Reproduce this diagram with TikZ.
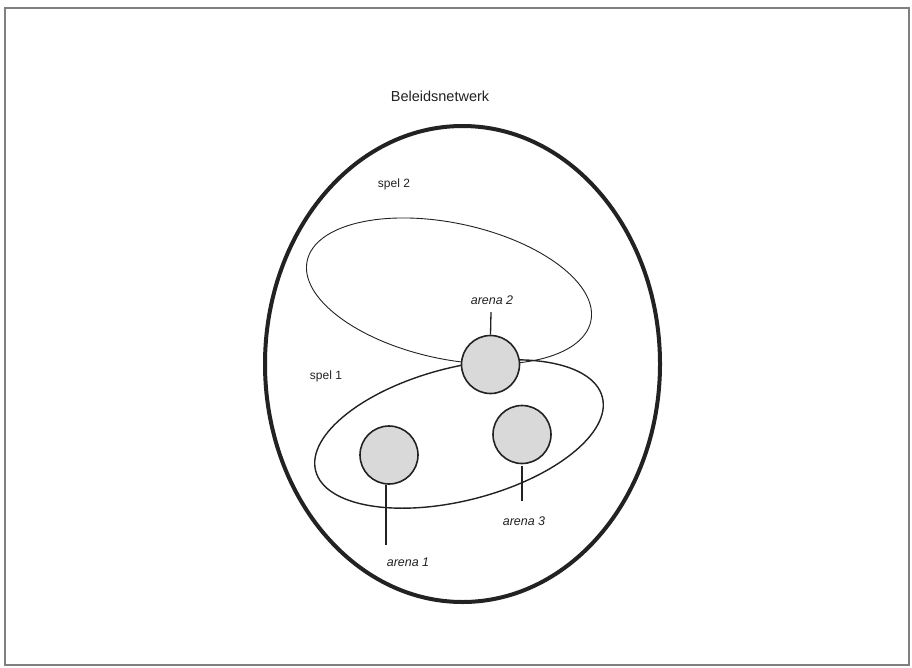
\documentclass[tikz,border=0pt]{standalone}
\usepackage{fontspec}
\setmainfont{Liberation Sans}
\usetikzlibrary{shapes.geometric}
\definecolor{ink}{HTML}{222222}
\definecolor{framegray}{HTML}{808080}
\definecolor{arenafill}{HTML}{D9D9D9}
\tikzset{
  arena/.style={circle, draw=ink, line width=1.6pt, fill=arenafill, minimum size=58pt, inner sep=0pt},
  lbl/.style={text=ink, inner sep=0pt, font=\fontsize{12.5}{14}\selectfont\itshape},
  spellbl/.style={text=ink, inner sep=0pt, font=\fontsize{12}{14}\selectfont},
  titlelbl/.style={text=ink, inner sep=0pt, font=\fontsize{14.5}{17}\selectfont},
  stem/.style={draw=ink, line width=1.3pt},
}
\begin{document}
\begin{tikzpicture}[x=1pt,y=-1pt]
\useasboundingbox (0,0) rectangle (912,667);
\fill[white] (0,0) rectangle (912,667);
% frame
\draw[framegray, line width=1.3pt] (5,8) rectangle (909,665);
% title
\node[titlelbl] (title) at (440,96) {Beleidsnetwerk};
% big ellipse
\draw[ink, line width=4pt] (462.5,364) ellipse [x radius=197.5pt, y radius=238pt];
% spel 2 ellipse
\draw[ink, line width=0.9pt, rotate around={-12:(449,291)}] (449,291) ellipse [x radius=145pt, y radius=68pt];
% spel 1 ellipse
\draw[ink, line width=1.4pt, rotate around={14.4:(459,434)}] (459,434) ellipse [x radius=148pt, y radius=66.5pt];
% labels spel
\node[spellbl] (s2) at (394,184) {spel 2};
\node[spellbl] (s1) at (326,376) {spel 1};
% arenas
\node[arena] (a2) at (490.5,364.5) {};
\node[arena] (a3) at (522,434.5) {};
\node[arena] (a1) at (389,455) {};
% stems
\coordinate (e2) at (491,312);
\coordinate (e3) at (522,501);
\coordinate (e1) at (386,545);
\draw[stem] (a2.north) -- (e2);
\draw[stem] ([yshift=-2pt]a3.south) -- (e3);
\draw[stem] (a1.south -| e1) -- (e1);
% arena labels
\node[lbl] (t2) at (492,300) {arena 2};
\node[lbl] (t3) at (524,521) {arena 3};
\node[lbl] (t1) at (408,562) {arena 1};
\end{tikzpicture}
\end{document}
